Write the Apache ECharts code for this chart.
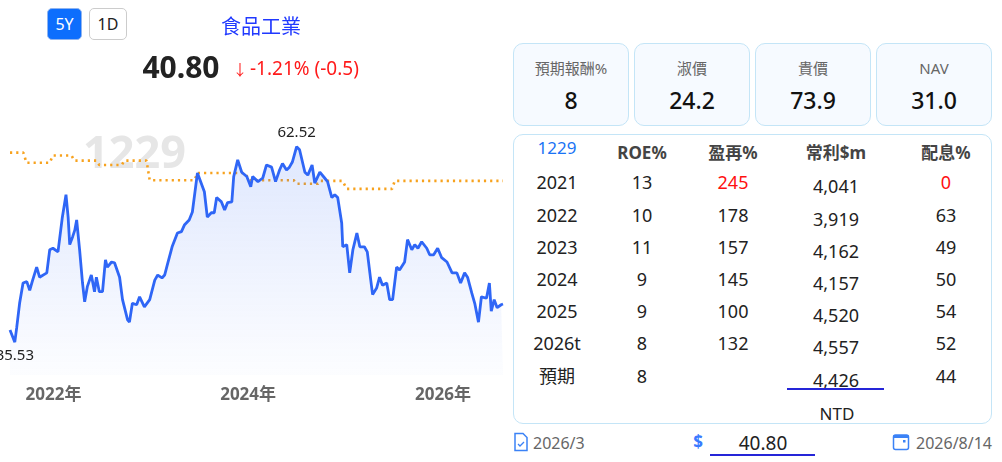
<!DOCTYPE html>
<html>
<head>
<meta charset="utf-8">
<script src="https://cdn.jsdelivr.net/npm/echarts@6/dist/echarts.min.js"></script>
<style>
html,body{margin:0;padding:0;}
body{width:1002px;height:462px;overflow:hidden;background:#fff;position:relative;font-family:'Noto Sans','Noto Sans CJK TC',sans-serif;}
#chart{position:absolute;left:0;top:0;width:510px;height:420px;}
.t{position:absolute;white-space:nowrap;transform:translate(-50%,-50%);line-height:1;}
.tl{position:absolute;white-space:nowrap;transform:translateY(-50%);line-height:1;}
.btn{position:absolute;top:8px;height:32px;border-radius:5px;font-size:16px;line-height:30px;text-align:center;box-sizing:border-box;z-index:3;}
.card{position:absolute;top:43px;width:116px;height:83px;box-sizing:border-box;border:1.5px solid #c4e5f7;background:#f6faff;border-radius:10px;}
.box{position:absolute;left:513px;top:134px;width:479px;height:290px;box-sizing:border-box;border:1.5px solid #c4e5f7;border-radius:10px;background:#fff;}
</style>
</head>
<body>
<div id="chart"></div>
<div id="ui"></div>
<script>
// ---- data ----
const priceDates = ['2021-07-22','2021-08-09','2021-08-16','2021-08-27','2021-09-09','2021-09-23','2021-10-04','2021-10-15','2021-10-30','2021-11-10','2021-12-07','2021-12-18','2021-12-30','2022-01-18','2022-02-03','2022-02-08','2022-02-17','2022-02-25','2022-03-03','2022-03-14','2022-03-22','2022-03-29','2022-04-09','2022-04-20','2022-04-28','2022-05-08','2022-05-23','2022-06-04','2022-06-11','2022-06-22','2022-07-04','2022-07-15','2022-07-22','2022-08-07','2022-08-18','2022-09-06','2022-09-17','2022-10-06','2022-10-13','2022-10-24','2022-11-09','2022-11-20','2022-12-08','2022-12-28','2023-01-16','2023-01-27','2023-02-12','2023-02-22','2023-03-04','2023-03-22','2023-04-11','2023-04-26','2023-05-07','2023-05-25','2023-06-06','2023-06-25','2023-07-21','2023-08-01','2023-08-16','2023-08-27','2023-09-05','2023-09-23','2023-10-05','2023-10-16','2023-11-01','2023-11-08','2023-11-23','2023-12-08','2023-12-27','2024-01-11','2024-01-18','2024-02-07','2024-02-25','2024-03-10','2024-03-29','2024-04-13','2024-04-28','2024-05-09','2024-05-24','2024-06-04','2024-06-15','2024-07-01','2024-07-12','2024-08-01','2024-08-12','2024-08-28','2024-09-07','2024-09-26','2024-10-14','2024-10-25','2024-11-10','2024-11-21','2024-12-02','2024-12-17','2024-12-21','2025-01-05','2025-01-16','2025-01-28','2025-02-12','2025-02-23','2025-03-12','2025-03-23','2025-04-05','2025-04-12','2025-04-27','2025-05-08','2025-05-19','2025-06-04','2025-06-15','2025-06-26','2025-07-11','2025-07-22','2025-08-10','2025-08-21','2025-09-06','2025-09-17','2025-09-29','2025-10-13','2025-11-01','2025-11-12','2025-11-27','2025-12-12','2025-12-27','2026-01-16','2026-02-04','2026-02-22','2026-03-08','2026-03-23','2026-04-03','2026-04-19','2026-04-30','2026-05-14','2026-05-25','2026-06-13','2026-06-24','2026-07-01','2026-07-12','2026-07-23','2026-08-07','2026-08-14'];
const priceValues = [37.2,35.53,37.5,40.9,43.7,43.9,42.7,44.1,45.9,44.5,45.1,48.3,48.5,48.0,52.7,52.8,55.9,52.8,49.0,50.1,51.0,52.4,48.3,43.7,41.1,43.2,44.8,42.5,44.5,42.5,42.5,46.9,45.9,46.6,46.5,44.5,41.4,38.6,38.3,40.9,40.7,41.8,40.4,41.4,44.1,44.8,44.4,44.8,46.2,48.7,50.6,50.8,51.7,52.4,53.5,58.9,56.3,52.8,53.4,53.4,55.5,54.9,53.8,54.8,54.9,58.4,60.7,59.0,58.4,57.0,58.4,57.7,58.2,60.0,59.7,57.7,59.3,60.2,59.3,59.7,60.4,62.52,62.1,59.0,58.6,60.0,57.5,59.0,58.2,57.7,55.5,55.9,55.5,52.0,48.7,49.0,45.1,48.3,50.6,48.7,48.7,48.0,44.1,42.1,43.0,44.5,43.4,43.7,41.4,41.4,45.9,45.5,46.6,49.7,48.3,49.0,48.5,49.4,48.5,47.6,47.6,48.5,47.2,46.6,45.1,45.1,43.7,45.1,44.5,42.3,40.9,38.3,41.8,41.6,43.7,39.8,41.4,40.3,40.7,40.8];
const fairDates = ['2021-07-22','2021-09-10','2021-09-22','2021-12-18','2021-12-30','2022-03-10','2022-03-20','2022-06-12','2022-06-22','2022-09-14','2022-09-24','2022-12-16','2022-12-28','2023-06-14','2023-06-25','2023-12-20','2024-01-06','2024-06-20','2024-07-01','2024-09-20','2024-09-28','2024-12-20','2025-01-05','2025-06-24','2025-07-04','2026-08-14'];
const fairValues = [61.7,61.7,60.3,60.3,61.3,61.3,60.6,60.6,60.0,60.0,60.6,60.6,57.9,57.9,58.9,58.9,57.9,57.9,57.4,57.4,57.8,57.8,56.7,56.7,57.8,57.8];
const xTickLabels = ['2022-01-01','2024-01-01','2026-01-01'];
const stockCode = '1229';
const stockName = '食品工業';
const lastPrice = '40.80';
const changeText = '-1.21% (-0.5)';

const cardLabels = ['預期報酬%','淑價','貴價','NAV'];
const cardValues = ['8','24.2','73.9','31.0'];

const tableHeads = ['ROE%','盈再%','常利$m','配息%'];
const rowLabels = ['2021','2022','2023','2024','2025','2026t','預期'];
const roeCol = ['13','10','11','9','9','8','8'];
const reinvCol = ['245','178','157','145','100','132',''];
const profitCol = ['4,041','3,919','4,162','4,157','4,520','4,557','4,426'];
const payoutCol = ['0','63','49','50','54','52','44'];
const redCells = {reinv:[0], payout:[0]};
const currencyText = 'NTD';
const reportDate = '2026/3';
const quoteDate = '2026/8/14';

// ---- html parts ----
const ui = document.getElementById('ui');
function put(text, x, y, style, cls){
  const e=document.createElement('div'); e.className=cls||'t'; e.textContent=text;
  e.style.left=x+'px'; e.style.top=y+'px'; Object.assign(e.style, style||{}); ui.appendChild(e); return e;
}
const b1=document.createElement('div');b1.className='btn';b1.textContent='5Y';
Object.assign(b1.style,{left:'47px',width:'35px',background:'#0d6efd',color:'#fff',border:'1.5px solid #8fb4f0'});ui.appendChild(b1);
const b2=document.createElement('div');b2.className='btn';b2.textContent='1D';
Object.assign(b2.style,{left:'89px',width:'38px',background:'#fff',color:'#222',border:'1.5px solid #ccc'});ui.appendChild(b2);
put(stockName,261,27,{fontSize:'20px',color:'#2039ff',zIndex:3});
put(lastPrice,181,67,{fontSize:'30px',fontWeight:'bold',color:'#222',zIndex:3});
put('↓',240,69,{fontSize:'15px',color:'#ff1a1a',zIndex:3});
put(changeText,250,68,{fontSize:'19px',color:'#ff1a1a',zIndex:3},'tl');

const cardX=[513,634,755,876];
cardLabels.forEach((l,i)=>{
  const c=document.createElement('div');c.className='card';c.style.left=cardX[i]+'px';ui.appendChild(c);
  put(l,cardX[i]+58,68,{fontSize:'15px',color:'#666'});
  put(cardValues[i],cardX[i]+58,100,{fontSize:'23px',fontWeight:'500',color:'#111'});
});

const bx=document.createElement('div');bx.className='box';ui.appendChild(bx);
const colX=[557,642,733,836,946];
const rowY=[182,215,247,279,311,343,376];
put(stockCode,colX[0],147,{fontSize:'17px',color:'#1a73f5'});
tableHeads.forEach((h,i)=>put(h,colX[i+1],152,{fontSize:'17px',fontWeight:'bold',color:'#444'}));
rowLabels.forEach((r,i)=>{
  const y=rowY[i];
  put(r,colX[0],y,{fontSize:'18px',color:'#222'});
  put(roeCol[i],colX[1],y,{fontSize:'18px',color:'#222'});
  put(reinvCol[i],colX[2],y,{fontSize:'18px',color:redCells.reinv.includes(i)?'#ff1010':'#222'});
  put(profitCol[i],colX[3],y+4,{fontSize:'18px',color:'#222'});
  put(payoutCol[i],colX[4],y,{fontSize:'18px',color:redCells.payout.includes(i)?'#ff1010':'#222'});
});
const ul=document.createElement('div');
Object.assign(ul.style,{position:'absolute',left:'787px',top:'388px',width:'97px',height:'1.5px',background:'#2525d8'});ui.appendChild(ul);
put(currencyText,837,413,{fontSize:'17px',color:'#222'});

const icons=document.createElement('div');
icons.innerHTML='<svg style="position:absolute;left:513px;top:432px" width="16" height="20" viewBox="0 0 16 20"><path d="M2 1.5h8l4 4v13H2z" fill="none" stroke="#3b82f6" stroke-width="1.5"/><path d="M5 12l2 2 4-4" fill="none" stroke="#3b82f6" stroke-width="1.3"/></svg>'+
'<svg style="position:absolute;left:892px;top:433px" width="18" height="18" viewBox="0 0 18 18"><rect x="1.5" y="2" width="15" height="14.5" rx="2" fill="none" stroke="#3b82f6" stroke-width="1.5"/><rect x="1.5" y="2" width="15" height="3" fill="#3b82f6"/><rect x="11" y="7" width="2.5" height="2.5" fill="#3b82f6"/></svg>';
ui.appendChild(icons);
put(reportDate,533,443,{fontSize:'16px',color:'#666'},'tl');
put(quoteDate,992,443,{fontSize:'16px',color:'#666',transform:'translate(-100%,-50%)'},'tl');
put('$',698,441,{fontSize:'17px',fontWeight:'bold',color:'#3a7bff'});
put(lastPrice,763,443,{fontSize:'19px',color:'#222'});
const ul2=document.createElement('div');
Object.assign(ul2.style,{position:'absolute',left:'710px',top:'454px',width:'105px',height:'1.5px',background:'#2525d8'});ui.appendChild(ul2);

// ---- chart ----
const toTs = s => +new Date(s + 'T00:00:00');
const chart = echarts.init(document.getElementById('chart'));
const FONT = "'Noto Sans','Noto Sans CJK TC',sans-serif";
chart.setOption({
  animation:false,
  grid:{left:10,right:7,top:136,bottom:45},
  graphic:[{type:'text',left:83,top:133,z:-10,silent:true,
    style:{text:stockCode,fontSize:45,fontWeight:'bold',fontFamily:FONT,fill:'#e6e6e6'}}],
  xAxis:{type:'value',min:toTs(priceDates[0]),max:toTs(priceDates[priceDates.length-1]),
    axisLine:{show:false},axisTick:{show:false},splitLine:{show:false},
    axisLabel:{customValues:xTickLabels.map(toTs),formatter:v=>new Date(v).getFullYear()+'年',
      color:'#666',fontSize:17,fontWeight:'bold',fontFamily:FONT,margin:12,hideOverlap:false}},
  yAxis:{type:'value',min:31,max:64,show:false,splitLine:{show:false}},
  series:[
    {type:'line',data:fairDates.map((d,i)=>[toTs(d),fairValues[i]]),showSymbol:false,z:3,
      lineStyle:{color:'#f7a21e',width:2.6,type:[2.2,4],cap:'butt'}},
    {type:'line',data:priceDates.map((d,i)=>[toTs(d),priceValues[i]]),showSymbol:false,z:4,
      lineStyle:{color:'#2f66f6',width:2.8},
      areaStyle:{color:new echarts.graphic.LinearGradient(0,0,0,1,[
        {offset:0,color:'rgba(47,102,246,0.22)'},{offset:1,color:'rgba(47,102,246,0.02)'}])},
      markPoint:{symbol:'circle',symbolSize:1,itemStyle:{color:'rgba(0,0,0,0)'},
        label:{color:'#222',fontSize:15,fontFamily:FONT,formatter:p=>p.value.toFixed(2)},
        data:[{type:'max',label:{position:'top',distance:6}},{type:'min',label:{position:'bottom',distance:6}}]}}
  ]
});
</script>
</body>
</html>
